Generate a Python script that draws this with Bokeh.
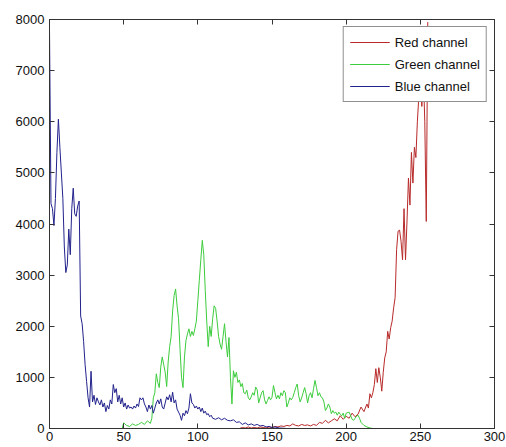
from bokeh.plotting import figure
from bokeh.models import (Range1d, FixedTicker, LinearAxis, Legend, LegendItem,
                          CustomJSTickFormatter)
from bokeh.embed import file_html
from bokeh.resources import INLINE

# ---- data ----
x_ticks = [0, 50, 100, 150, 200, 250, 300]
y_ticks = [0, 1000, 2000, 3000, 4000, 5000, 6000, 7000, 8000]

blue_x = [0, 1, 2, 3, 4, 5, 6, 7, 8, 9, 10, 11, 12, 13, 14, 15, 16, 17, 18, 19,
          20, 21, 22, 23, 24, 25, 26, 27, 28, 29, 30, 31, 32, 33, 34, 35, 36, 37, 38, 39,
          40, 41, 42, 43, 44, 45, 46, 47, 48, 49, 50, 51, 52, 53, 54, 55, 56, 57, 58, 59,
          60, 61, 62, 63, 64, 65, 66, 67, 68, 69, 70, 71, 72, 73, 74, 75, 76, 77, 78, 79,
          80, 81, 82, 83, 84, 85, 86, 87, 88, 89, 90, 91, 92, 93, 94, 95, 96, 97, 98, 99,
          100, 101, 102, 103, 104, 105, 106, 107, 108, 109, 110, 112, 114, 116, 118, 120,
          122, 124, 126, 128, 130, 132, 134, 136, 138, 140, 142, 144, 146, 148, 150, 152,
          155, 160]
blue_y = [7800, 4400, 4300, 3970, 4500, 5400, 6050, 5500, 5000, 4500, 3550, 3050, 3200,
          3900, 3400, 4300, 4700, 4200, 4150, 4350, 4450, 2200, 2050, 1700, 1250, 920, 600,
          420, 1120, 520, 650, 470, 600, 520, 460, 560, 420, 500, 330, 450, 380, 560, 480,
          860, 700, 780, 520, 650, 480, 600, 420, 500, 380, 460, 400, 420, 380, 440, 400,
          480, 430, 600, 560, 600, 480, 420, 330, 460, 380, 450, 300, 400, 500, 560, 480,
          580, 420, 380, 500, 620, 560, 660, 520, 710, 500, 560, 380, 320, 260, 160, 300,
          250, 350, 290, 400, 680, 500, 470, 400, 440, 380, 420, 330, 400, 300, 340, 270,
          290, 230, 260, 200, 180, 210, 170, 200, 160, 150, 170, 120, 130, 80, 110, 70, 90,
          60, 80, 50, 60, 30, 40, 20, 30, 10, 0]

green_x = [49, 50, 52, 54, 56, 58, 60, 62, 64, 66, 68, 69, 70, 71, 72, 73, 74, 75, 76, 77,
           78, 79, 80, 81, 82, 83, 84, 85, 86, 87, 88, 89, 90, 91, 92, 93, 94, 95, 96, 97,
           98, 99, 100, 101, 102, 103, 104, 105, 106, 107, 108, 109, 110, 111, 112, 113,
           114, 115, 116, 117, 118, 119, 120, 121, 122, 123, 124, 125, 126, 127, 128, 129,
           130, 131, 132, 133, 134, 135, 136, 137, 138, 139, 140, 141, 142, 143, 144, 145,
           146, 147, 148, 149, 150, 151, 152, 153, 154, 155, 156, 157, 158, 159, 160, 161,
           162, 163, 164, 165, 166, 167, 168, 169, 170, 171, 172, 173, 174, 175, 176, 177,
           178, 179, 180, 181, 182, 183, 184, 185, 186, 187, 188, 189, 190, 191, 192, 193,
           194, 195, 196, 197, 198, 199, 200, 202, 204, 205, 206, 207, 208, 209, 210, 211,
           212, 214, 216, 218]
green_y = [0, 110, 60, 40, 90, 60, 80, 120, 80, 150, 100, 200, 600, 700, 1070, 900, 800,
           1200, 1400, 1250, 1100, 820, 1300, 1600, 1800, 2300, 2600, 2730, 2400, 2150, 1550,
           1000, 800, 1400, 1720, 1850, 1950, 1800, 1900, 1820, 1950, 2100, 2500, 2900, 3300,
           3680, 3400, 2700, 2100, 1600, 2000, 1800, 2150, 2400, 2350, 2100, 1800, 1650, 1550,
           1800, 2050, 1700, 1400, 1780, 1000, 480, 1130, 1000, 1100, 900, 950, 820, 880, 700,
           680, 750, 600, 560, 620, 700, 650, 810, 760, 500, 600, 700, 740, 560, 480, 550, 620,
           560, 610, 840, 700, 580, 650, 580, 700, 640, 740, 700, 420, 500, 600, 560, 610, 700,
           800, 870, 640, 520, 600, 700, 800, 680, 500, 640, 700, 600, 780, 940, 800, 640, 700,
           620, 600, 520, 350, 400, 480, 420, 290, 350, 300, 320, 260, 320, 280, 250, 300, 200,
           300, 320, 180, 160, 200, 240, 260, 200, 120, 90, 60, 30, 10, 0]

red_x = [128, 130, 132, 134, 136, 138, 140, 142, 144, 146, 148, 150, 152, 154, 156, 158,
         160, 162, 164, 166, 168, 170, 172, 174, 176, 178, 180, 182, 184, 186, 188, 190,
         192, 194, 196, 198, 200, 202, 204, 206, 208, 210, 212, 214, 215, 216, 217, 218,
         219, 220, 221, 222, 223, 224, 225, 226, 227, 228, 229, 230, 231, 232, 233, 234,
         235, 236, 237, 238, 239, 240, 241, 242, 243, 244, 245, 246, 247, 248, 249, 250,
         251, 252, 253, 254, 255]
red_y = [0, 20, 10, 30, 10, 20, 10, 30, 20, 10, 30, 20, 40, 30, 50, 40, 60, 50, 90, 60, 50,
         80, 60, 70, 50, 80, 60, 120, 100, 160, 110, 150, 190, 150, 250, 180, 240, 200, 300,
         230, 280, 420, 330, 480, 400, 680, 600, 700, 860, 1170, 900, 1190, 1000, 730, 1100,
         1380, 1500, 1900, 1750, 1970, 2100, 2360, 2560, 3500, 3860, 3880, 3660, 3300, 4300,
         3300, 4040, 4900, 4370, 5400, 4800, 5500, 5300, 6000, 6500, 7400, 6300, 7000, 6000,
         4050, 7950]

FONT = "Liberation Sans"
AX = "#333333"

p = figure(width=506, height=447, x_range=Range1d(0, 300), y_range=Range1d(0, 8000),
           output_backend="svg", toolbar_location=None,
           min_border_left=49, min_border_right=12, min_border_top=19, min_border_bottom=19)
p.grid.visible = False
p.background_fill_color = "white"
p.border_fill_color = "white"
p.outline_line_color = AX
p.outline_line_width = 1


def style_axis(ax, show_labels=True):
    ax.axis_line_color = AX
    ax.major_tick_line_color = AX
    ax.major_tick_in = 5
    ax.major_tick_out = 0
    ax.minor_tick_line_color = None
    if show_labels:
        ax.major_label_text_font = FONT
        ax.major_label_text_font_size = "13px"
        ax.major_label_text_color = "#111111"
    else:
        ax.formatter = CustomJSTickFormatter(code="return ''")
        ax.major_label_text_font_size = "1px"
        ax.major_label_standoff = 0


p.xaxis.ticker = FixedTicker(ticks=x_ticks)
p.yaxis.ticker = FixedTicker(ticks=y_ticks)
style_axis(p.xaxis[0])
style_axis(p.yaxis[0])
p.xaxis.major_label_standoff = 3
p.yaxis.major_label_standoff = 5

top_ax = LinearAxis(ticker=FixedTicker(ticks=x_ticks))
right_ax = LinearAxis(ticker=FixedTicker(ticks=y_ticks))
style_axis(top_ax, False)
style_axis(right_ax, False)
p.add_layout(top_ax, "above")
p.add_layout(right_ax, "right")

r_red = p.line(red_x, red_y, line_color="#b82a2a", line_width=1)
r_green = p.line(green_x, green_y, line_color="#3ccc3c", line_width=1)
r_blue = p.line(blue_x, blue_y, line_color="#22228c", line_width=1)

legend = Legend(items=[LegendItem(label="Red channel", renderers=[r_red]),
                       LegendItem(label="Green channel", renderers=[r_green]),
                       LegendItem(label="Blue channel", renderers=[r_blue])],
                location="top_right")
legend.margin = 7
legend.padding = 6
legend.spacing = 4
legend.glyph_width = 40
legend.glyph_height = 18
legend.label_height = 18
legend.label_standoff = 5
legend.label_text_font = FONT
legend.label_text_font_size = "13px"
legend.label_text_color = "#111111"
legend.border_line_color = "#222222"
legend.border_line_width = 1
legend.background_fill_color = "white"
legend.background_fill_alpha = 1.0
p.add_layout(legend)

open("out.html", "w").write(file_html(p, INLINE))
